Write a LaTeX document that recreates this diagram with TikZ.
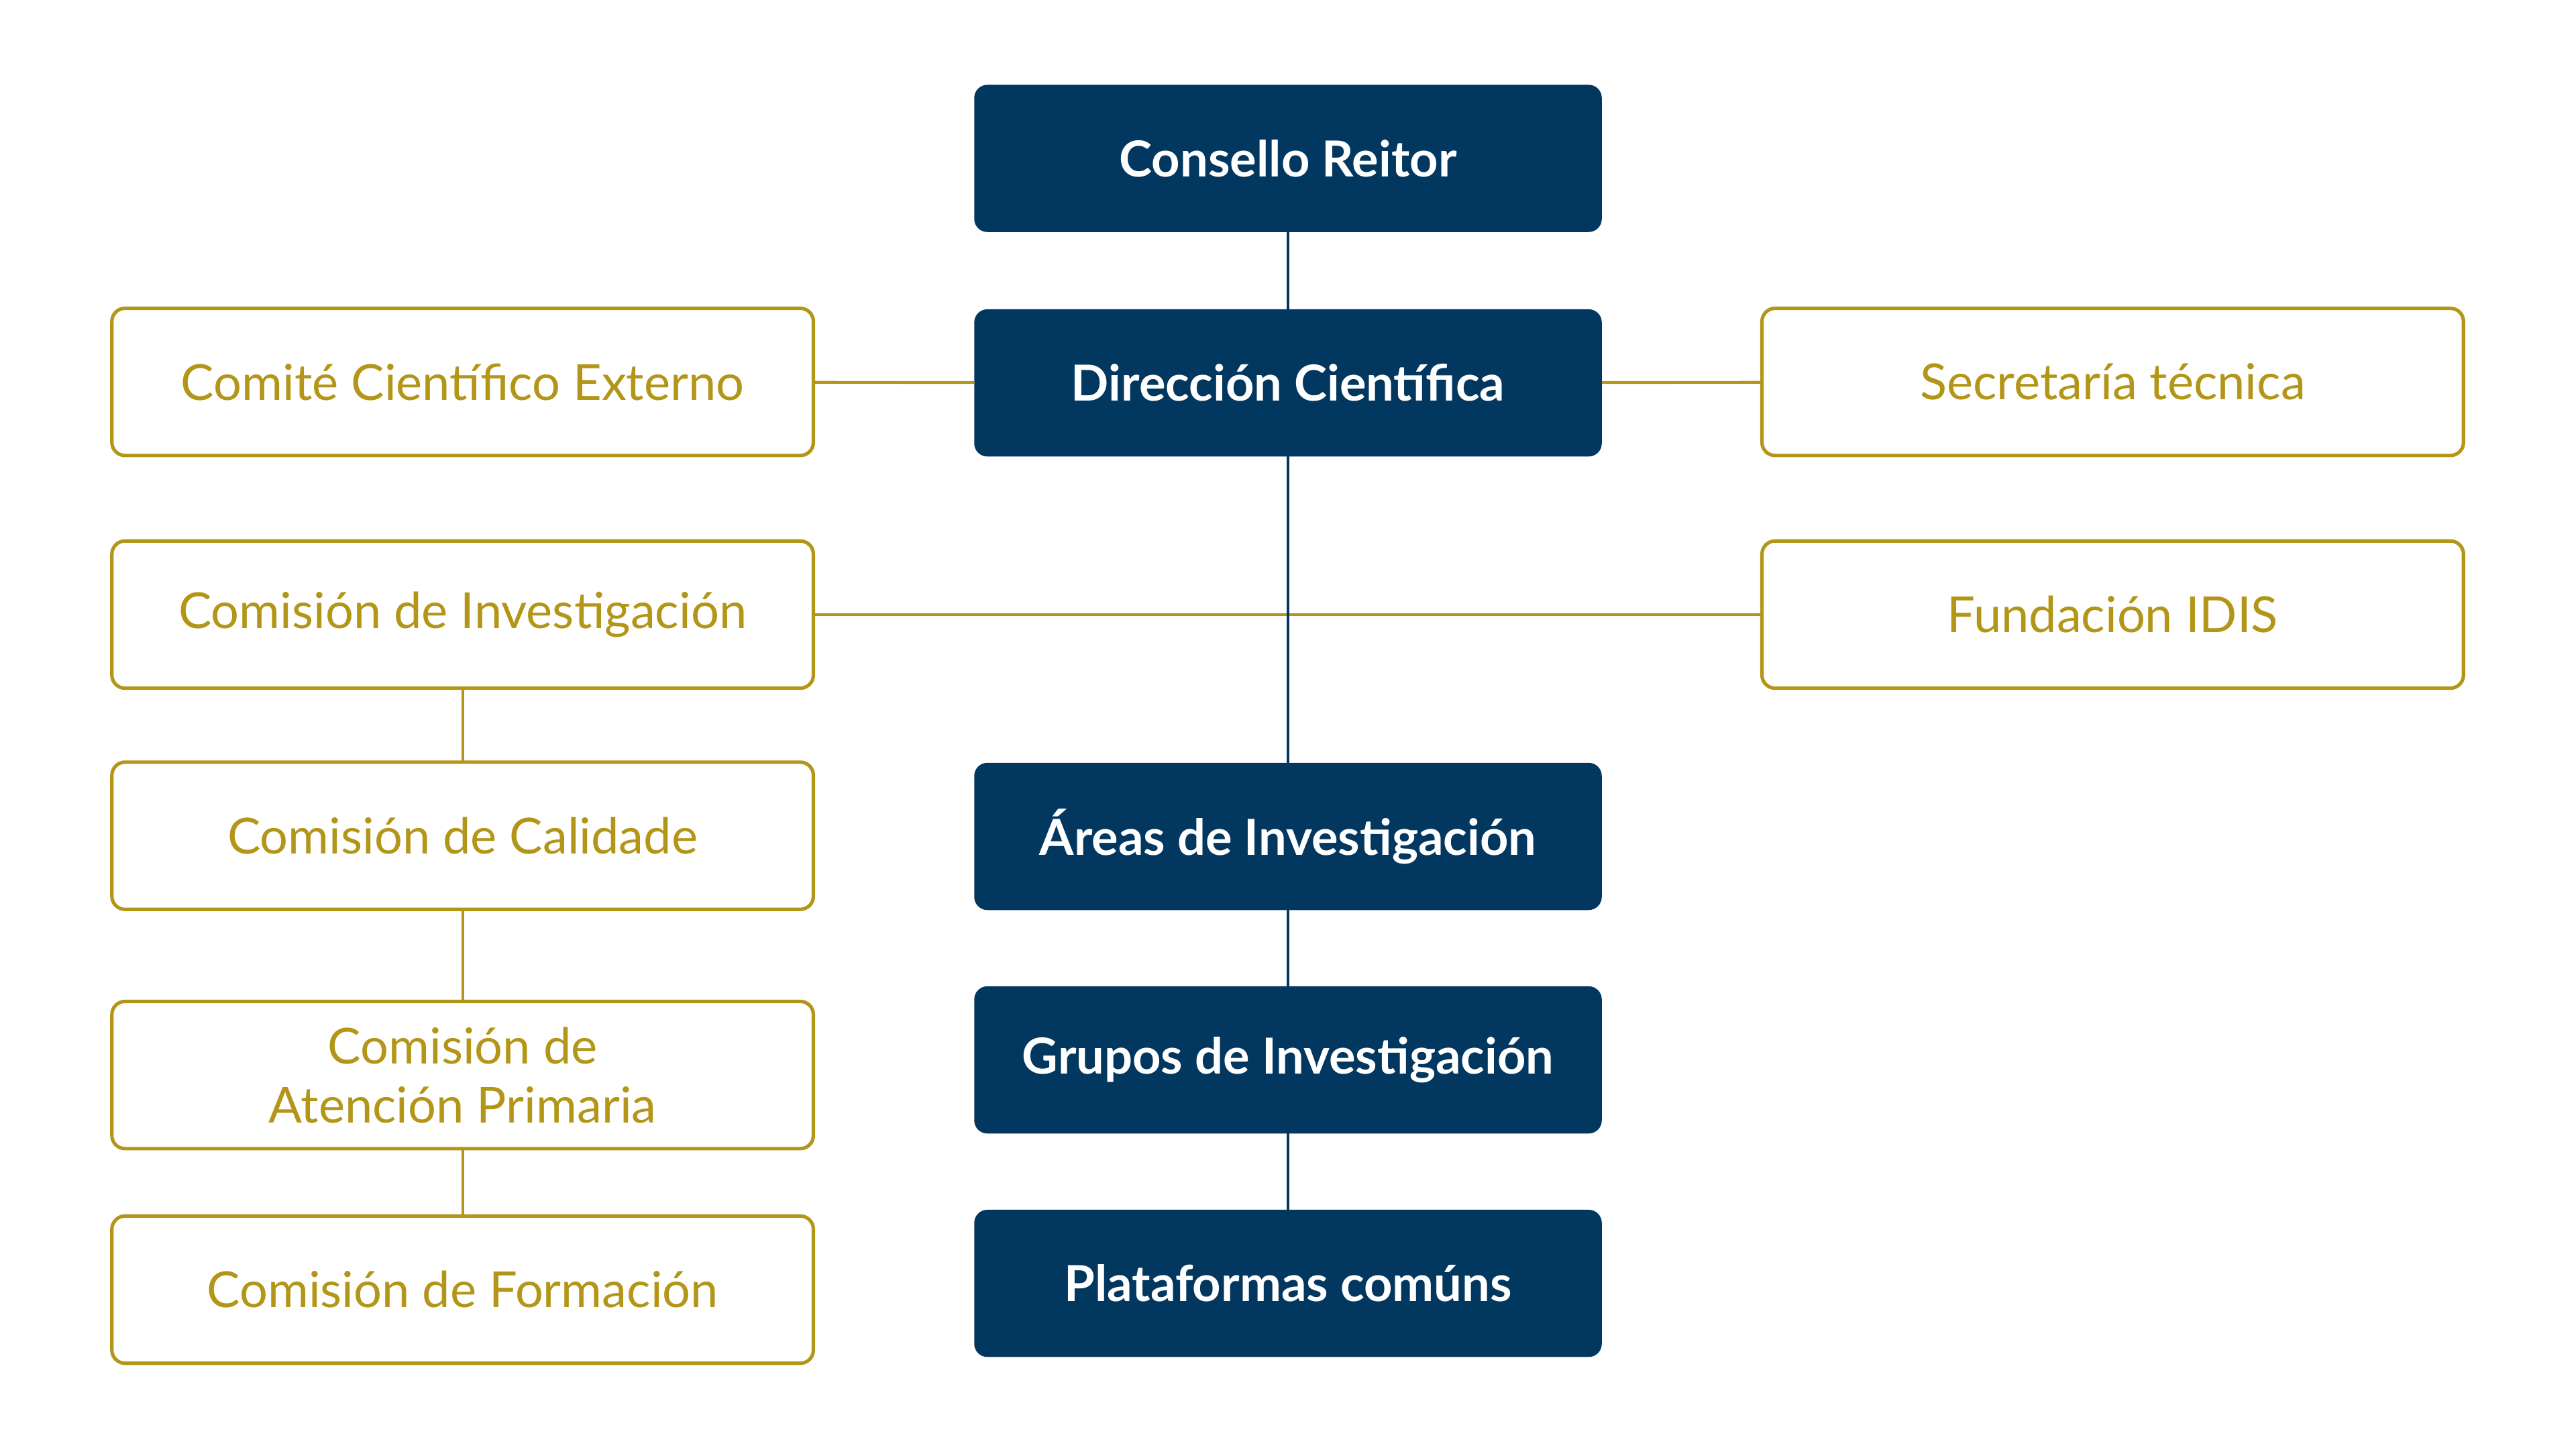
\documentclass[tikz,border=0pt]{standalone}
\usepackage{xcolor}
\usepackage{fontspec}
\setmainfont{Lato}
\usepackage{tikz}
\usetikzlibrary{positioning}

\definecolor{navy}{HTML}{02375F}
\definecolor{gold}{HTML}{B39517}

\begin{document}
\begin{tikzpicture}[
    mainbox/.style={rectangle, rounded corners=0.2cm, fill=navy, text=white, font=\fontsize{21.5}{25.5}\selectfont\bfseries, minimum width=9.55cm, minimum height=2.24cm, outer sep=0pt, align=center},
    sidebox/.style={rectangle, rounded corners=0.2cm, draw=gold, line width=1.5pt, text=gold, font=\fontsize{21.5}{25.5}\selectfont, minimum width=10.675cm, minimum height=2.24cm, outer sep=0pt, align=center},
    navyline/.style={draw=navy, line width=1.1pt},
    goldline/.style={draw=gold, line width=1.2pt}
]
    \useasboundingbox (0,0) rectangle (39.2,-22.05);

    % Central column
    \node[mainbox] (consello) at (19.6,-2.41) {Consello Reitor};
    \node[mainbox, below=1.175cm of consello] (direccion) {Dirección Científica};
    \node[mainbox, below=4.66cm of direccion] (areas) {Áreas de Investigación};
    \node[mainbox, below=1.16cm of areas] (grupos) {Grupos de Investigación};
    \node[mainbox, below=1.16cm of grupos] (plataformas) {Plataformas comúns};

    % Left column
    \node[sidebox] (comite) at (7.04,-5.81) {Comité Científico Externo};
    \node[sidebox, below=1.3cm of comite] (cominv) {Comisión de Investigación};
    \node[sidebox, below=1.125cm of cominv] (calidade) {Comisión de Calidade};
    \node[sidebox, below=1.4cm of calidade] (atencion) {Comisión de\\Atención Primaria};
    \node[sidebox, below=1.025cm of atencion] (formacion) {Comisión de Formación};

    % Right column
    \node[sidebox] (secretaria) at (32.15,-5.81) {Secretaría técnica};
    \node[sidebox, below=1.3cm of secretaria] (fundacion) {Fundación IDIS};

    \draw[goldline] (comite) -- (direccion);
    \draw[goldline] (direccion) -- (secretaria);
    \draw[goldline] (cominv) -- (fundacion);
    \draw[goldline] (cominv) -- (calidade);
    \draw[goldline] (calidade) -- (atencion);
    \draw[goldline] (atencion) -- (formacion);

    \draw[navyline] (consello) -- (direccion);
    \draw[navyline] (direccion) -- (areas);
    \draw[navyline] (areas) -- (grupos);
    \draw[navyline] (grupos) -- (plataformas);
\end{tikzpicture}
\end{document}
